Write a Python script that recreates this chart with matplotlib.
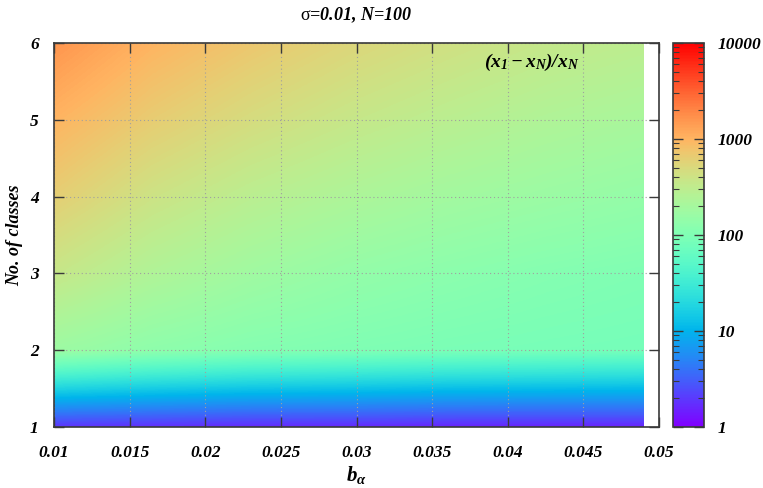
import matplotlib
matplotlib.use("Agg")
import matplotlib.pyplot as plt
import numpy as np
from matplotlib import patches, ticker
from matplotlib.colors import LogNorm
from matplotlib.cm import ScalarMappable

plt.rcParams["font.family"] = ["Liberation Serif", "DejaVu Serif"]
plt.rcParams["mathtext.fontset"] = "custom"
plt.rcParams["mathtext.rm"] = "Liberation Serif:bold:italic"
plt.rcParams["mathtext.it"] = "Liberation Serif:bold:italic"
plt.rcParams["mathtext.bf"] = "Liberation Serif:bold:italic"
plt.rcParams["mathtext.sf"] = "Liberation Serif"

# b_alpha の列 (等間隔) と クラス数
b_alpha = [0.010, 0.0165, 0.023, 0.0295, 0.036, 0.0425, 0.049]
n_classes = [1, 2, 3, 4, 5, 6]

# (x_1 - x_N)/x_N : 行 = クラス数, 列 = b_alpha
ratio_c1 = [1.8, 1.7, 1.6, 1.6, 1.5, 1.5, 1.5]
ratio_c2 = [170, 130, 110, 100, 92, 87, 83]
ratio_c3 = [360, 240, 180, 145, 125, 110, 100]
ratio_c4 = [630, 400, 290, 230, 190, 165, 145]
ratio_c5 = [1000, 650, 470, 360, 290, 240, 210]
ratio_c6 = [1600, 1000, 720, 540, 430, 350, 300]

xticks = [0.01, 0.015, 0.02, 0.025, 0.03, 0.035, 0.04, 0.045, 0.05]
xlabels = ["0.01", "0.015", "0.02", "0.025", "0.03", "0.035", "0.04", "0.045", "0.05"]
yticks = [1, 2, 3, 4, 5, 6]
cticks = [1, 10, 100, 1000, 10000]

FRAME = "#3a3a3a"
TICKFONT = dict(family="Liberation Serif", weight="bold", style="italic", size=12.5)

vals = np.array([ratio_c1, ratio_c2, ratio_c3, ratio_c4, ratio_c5, ratio_c6])
xs = np.array(b_alpha)
ys = np.array(n_classes, dtype=float)
dx = xs[1] - xs[0]
dy = ys[1] - ys[0]

fig = plt.figure(figsize=(7.63, 4.88), dpi=100)
ax = fig.add_axes([0.0708, 0.125, 0.793, 0.787])
cax = fig.add_axes([0.882, 0.125, 0.0406, 0.787])

# 対数値で補間 (pm3d interpolate 風)
im = ax.imshow(
    np.log10(vals),
    origin="lower",
    extent=[xs[0] - dx / 2, xs[-1] + dx / 2, ys[0] - dy / 2, ys[-1] + dy / 2],
    aspect="auto",
    cmap="rainbow",
    vmin=0,
    vmax=4,
    interpolation="bilinear",
    interpolation_stage="data",
)
clip = patches.Rectangle(
    (xs[0], ys[0]), xs[-1] - xs[0], ys[-1] - ys[0], transform=ax.transData
)
im.set_clip_path(clip)

ax.set_xlim(0.01, 0.05)
ax.set_ylim(1, 6)
ax.set_xticks(xticks)
ax.set_xticklabels(xlabels)
ax.set_yticks(yticks)
ax.tick_params(
    direction="in", top=True, right=True, length=7, width=1, color=FRAME
)
ax.tick_params(axis="x", pad=13)
ax.tick_params(axis="y", pad=11)
for lab in ax.get_xticklabels() + ax.get_yticklabels():
    lab.set_fontproperties(TICKFONT)
for sp in ax.spines.values():
    sp.set_color(FRAME)
    sp.set_linewidth(1.2)
ax.grid(True, linestyle=(0, (1, 2.5)), color="#a0a0a0", linewidth=0.8)

ax.set_xlabel(r"$b_\alpha$", fontsize=15, labelpad=2)
ax.set_ylabel("No. of classes", fontsize=13, fontweight="bold", style="italic", labelpad=5)
ax.set_title(
    r"$\mathsf{\sigma}$=0.01, N=100",
    fontsize=13,
    fontweight="bold",
    style="italic",
    pad=16,
)
ax.text(
    0.869, 0.95, r"$(x_1 - x_N)/x_N$", transform=ax.transAxes,
    ha="right", va="center", fontsize=14,
)

sm = ScalarMappable(norm=LogNorm(vmin=1, vmax=10000), cmap="rainbow")
cb = fig.colorbar(sm, cax=cax)
cb.set_ticks(cticks)
cb.ax.yaxis.set_major_formatter(ticker.FuncFormatter(lambda v, p: f"{v:g}"))
cb.outline.set_edgecolor(FRAME)
cb.outline.set_linewidth(1.2)
cax.tick_params(which="both", direction="in", left=True, right=True, color=FRAME)
cax.tick_params(which="major", length=7, width=1, pad=10)
cax.tick_params(which="minor", length=4, width=0.8)
for lab in cax.get_yticklabels():
    lab.set_fontproperties(TICKFONT)

fig.savefig("out.png", dpi=100)
